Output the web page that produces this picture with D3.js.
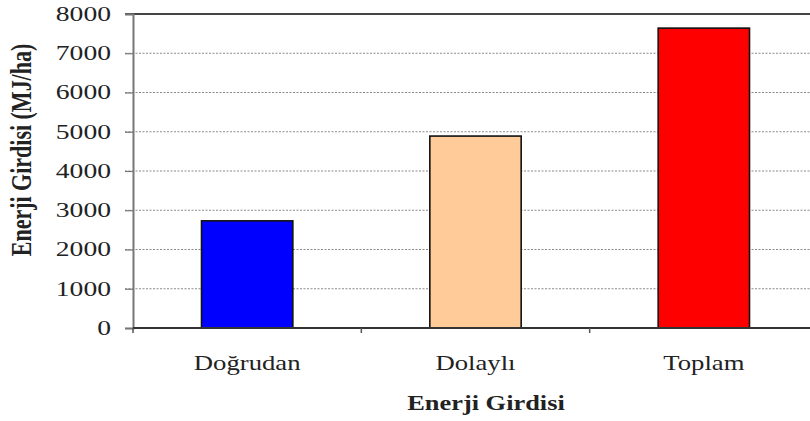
<!DOCTYPE html>
<html>
<head>
<meta charset="utf-8">
<script src="https://cdn.jsdelivr.net/npm/d3@7"></script>
<style>
  html, body { margin: 0; padding: 0; background: #fff; }
  svg { display: block; }
  text { font-family: "Liberation Serif", "Times New Roman", serif; fill: #222; }
</style>
</head>
<body>
<script>
// Energy input by source (MJ/ha)
const categories = ["Doğrudan", "Dolaylı", "Toplam"];
const values = [2730, 4890, 7640];
const barColors = ["#0000FF", "#FFCC99", "#FF0000"];
const yTicks = [0, 1000, 2000, 3000, 4000, 5000, 6000, 7000, 8000];
const yTitle = "Enerji Girdisi (MJ/ha)";
const xTitle = "Enerji Girdisi";

const W = 810, H = 421;
const plot = { left: 133, right: 818, top: 14, bottom: 328 };
const stretch = 1.3; // horizontal widening of the lettering

const svg = d3.select("body").append("svg")
  .attr("width", W).attr("height", H);

const x = d3.scaleBand()
  .domain(categories)
  .range([plot.left, plot.right])
  .paddingInner(0.6)
  .paddingOuter(0.3);

const y = d3.scaleLinear()
  .domain([0, 8000])
  .range([plot.bottom, plot.top]);

// dotted gridlines for the inner ticks
svg.append("g")
  .selectAll("line")
  .data(yTicks.filter(d => d > 0 && d < 8000))
  .join("line")
  .attr("x1", plot.left - 8).attr("x2", W)
  .attr("y1", d => y(d)).attr("y2", d => y(d))
  .attr("stroke", "#8a8a8a")
  .attr("stroke-width", 1.2)
  .attr("stroke-dasharray", "2,1.5");

// top frame line
svg.append("line")
  .attr("x1", plot.left - 8).attr("x2", W)
  .attr("y1", y(8000)).attr("y2", y(8000))
  .attr("stroke", "#444").attr("stroke-width", 2);

// y axis
const yAxis = d3.axisLeft(y).tickValues(yTicks).tickSize(8).tickPadding(14)
  .tickFormat(d3.format("d"));
const gy = svg.append("g")
  .attr("transform", `translate(${plot.left},0)`)
  .call(yAxis);
gy.select(".domain").attr("stroke", "#777").attr("stroke-width", 2);
gy.selectAll(".tick line").attr("stroke", "#777").attr("stroke-width", 1.2);
gy.selectAll(".tick text")
  .attr("font-size", 20)
  .attr("fill", "#222")
  .style("font-family", '"Liberation Serif", serif')
  .each(function () {
    const t = d3.select(this);
    const tx = +t.attr("x");
    t.attr("x", null)
     .attr("transform", `translate(${tx},0) scale(1.38,1)`);
  });

// bars
svg.append("g")
  .selectAll("rect")
  .data(values)
  .join("rect")
  .attr("x", (d, i) => x(categories[i]))
  .attr("y", d => y(d))
  .attr("width", x.bandwidth())
  .attr("height", d => y(0) - y(d))
  .attr("fill", (d, i) => barColors[i])
  .attr("stroke", "#111")
  .attr("stroke-width", 1.6);

// x axis baseline and category separators
svg.append("line")
  .attr("x1", plot.left).attr("x2", W)
  .attr("y1", y(0)).attr("y2", y(0))
  .attr("stroke", "#333").attr("stroke-width", 2);

const step = x.step();
svg.append("g")
  .selectAll("line")
  .data(d3.range(categories.length + 1))
  .join("line")
  .attr("x1", i => plot.left + i * step)
  .attr("x2", i => plot.left + i * step)
  .attr("y1", y(0)).attr("y2", y(0) + 5)
  .attr("stroke", "#555").attr("stroke-width", 1.5);

// category labels
svg.append("g")
  .selectAll("text")
  .data(categories)
  .join("text")
  .attr("transform", d => `translate(${x(d) + x.bandwidth() / 2},370) scale(1.27,1)`)
  .attr("text-anchor", "middle")
  .attr("font-size", 21)
  .text(d => d);

// axis titles
svg.append("text")
  .attr("transform", `translate(486,410) scale(1.32,1)`)
  .attr("text-anchor", "middle")
  .attr("font-size", 20)
  .attr("font-weight", "bold")
  .attr("fill", "#111")
  .text(xTitle);

svg.append("text")
  .attr("transform", `translate(31,150) scale(${stretch},1) rotate(-90)`)
  .attr("text-anchor", "middle")
  .attr("font-size", 22)
  .attr("font-weight", "bold")
  .attr("fill", "#111")
  .text(yTitle);
</script>
</body>
</html>
